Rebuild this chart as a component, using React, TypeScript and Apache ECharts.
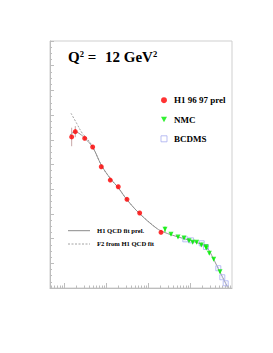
import React, { useEffect, useRef } from "react";
import * as echarts from "echarts";

// H1 96 97 prel: [x, F2, err]
const h1X = [1.525e-4, 1.86e-4, 3.11e-4, 4.82e-4, 7.73e-4, 1.265e-3, 1.96e-3, 3.16e-3, 6.34e-3, 0.0204];
const h1Y = [1.223, 1.266, 1.212, 1.142, 0.982, 0.874, 0.82, 0.718, 0.607, 0.451];
const h1E = [0.075, 0.045, 0.015, 0.015, 0.015, 0.015, 0.015, 0.015, 0.012, 0.01];

// NMC
const nmcX = [0.0254, 0.0353, 0.0518, 0.072, 0.0946, 0.116, 0.144, 0.186, 0.24, 0.245, 0.288, 0.367, 0.518];
const nmcY = [0.475, 0.435, 0.413, 0.405, 0.383, 0.37, 0.37, 0.348, 0.334, 0.324, 0.281, 0.232, 0.132];
const nmcE = [0.022, 0.01, 0.01, 0.01, 0.01, 0.01, 0.01, 0.01, 0.01, 0.01, 0.01, 0.01, 0.012];

// BCDMS
const bcdX = [0.0773, 0.106, 0.19, 0.24, 0.472, 0.588, 0.708];
const bcdY = [0.394, 0.386, 0.362, 0.332, 0.16, 0.087, 0.038];

// H1 QCD fit prel. (solid)
const fitX = [1.39e-4, 1.83e-4, 2.41e-4, 3.14e-4, 4.83e-4, 7.9e-4, 1.29e-3, 1.96e-3, 3.11e-3, 6.2e-3, 0.0161, 0.0254, 0.044, 0.076, 0.1315, 0.204, 0.268, 0.353, 0.464, 0.578, 0.79];
const fitY = [1.239, 1.265, 1.247, 1.212, 1.139, 0.99, 0.884, 0.812, 0.718, 0.605, 0.483, 0.449, 0.421, 0.397, 0.372, 0.348, 0.316, 0.243, 0.162, 0.097, 0.004];

// F2 from H1 QCD fit (dashed)
const f2X = [1.47e-4, 2.0e-4, 2.73e-4, 3.51e-4, 4.83e-4, 7.9e-4, 1.29e-3, 1.96e-3, 3.11e-3, 6.2e-3, 0.0161];
const f2Y = [1.415, 1.334, 1.253, 1.212, 1.143, 0.99, 0.884, 0.812, 0.718, 0.605, 0.483];

const majorX = [1e-4, 1e-3, 1e-2, 1e-1];
const minorX: number[] = [];
[1e-5, 1e-4, 1e-3, 1e-2, 1e-1].forEach((d) => {
  for (let k = 2; k <= 9; k++) minorX.push(+(d * k).toPrecision(3));
});

const SERIF = "'Liberation Serif', 'DejaVu Serif', serif";
const LINE_GRAY = "#8a8a8a";
const BCD_BLUE = "#a8aef0";

function errSeries(name: string, xs: number[], ys: number[], es: number[], color: string) {
  return {
    type: "custom",
    name: name + "-err",
    silent: true,
    data: xs.map((x, i) => [x, ys[i] - es[i], ys[i] + es[i]]),
    encode: { x: 0, y: [1, 2] },
    renderItem: (params: any, api: any) => {
      const p1 = api.coord([api.value(0), api.value(1)]);
      const p2 = api.coord([api.value(0), api.value(2)]);
      return {
        type: "line",
        shape: { x1: p1[0], y1: p1[1], x2: p2[0], y2: p2[1] },
        style: { stroke: color, lineWidth: 1 },
      };
    },
    z: 2,
  };
}

export default function App() {
  const ref = useRef<HTMLDivElement>(null);
  useEffect(() => {
    if (!ref.current) return;
    const chart = echarts.init(ref.current, null, { renderer: "svg" });
    const axisGray = "#bdbdbd";
    const supStyle = { fontSize: 8.5, fontWeight: "bold", fontFamily: SERIF, verticalAlign: "top", lineHeight: 9, fill: "#000" };
    chart.setOption({
      animation: false,
      backgroundColor: "#fff",
      grid: {
        left: 50,
        top: 41,
        width: 182,
        height: 247,
        show: true,
        borderColor: "#cfcfcf",
        borderWidth: 1,
        backgroundColor: "transparent",
      },
      xAxis: [
        {
          type: "log",
          min: 4.65e-5,
          max: 1,
          axisLine: { show: true, lineStyle: { color: axisGray } },
          axisTick: { show: true, inside: true, length: 5, customValues: majorX, lineStyle: { color: axisGray } },
          axisLabel: { show: false },
          splitLine: { show: false },
          minorTick: { show: false },
        },
        {
          type: "log",
          min: 4.65e-5,
          max: 1,
          position: "bottom",
          axisLine: { show: false },
          axisTick: { show: true, inside: true, length: 2.5, customValues: minorX, lineStyle: { color: axisGray } },
          axisLabel: { show: false },
          splitLine: { show: false },
        },
      ],
      yAxis: {
        type: "value",
        min: 0,
        max: 2,
        interval: 0.2,
        axisLine: { show: true, lineStyle: { color: axisGray } },
        axisTick: { show: true, inside: true, length: 4, lineStyle: { color: axisGray } },
        minorTick: { show: true, splitNumber: 4, length: 2, lineStyle: { color: axisGray } },
        axisLabel: { show: false },
        splitLine: { show: false },
      },
      legend: [
        {
          data: [
            { name: "H1 96 97 prel", icon: "circle" },
            { name: "NMC", icon: "path://M0,0 L10,0 L5,9 Z" },
            {
              name: "BCDMS",
              icon: "rect",
              itemStyle: { color: "rgba(255,255,255,0)", borderColor: BCD_BLUE, borderWidth: 1 },
            },
          ],
          orient: "vertical",
          left: 160.5,
          top: 95.7,
          itemWidth: 6,
          itemHeight: 6,
          itemGap: 10.3,
          padding: 0,
          selectedMode: false,
          textStyle: { fontFamily: SERIF, fontWeight: "bold", fontSize: 9, color: "#000", padding: [0, 0, 0, 2] },
        },
      ],
      graphic: [
        {
          type: "text",
          left: 68,
          top: 49,
          style: {
            text: "Q{sup|2} =",
            fontFamily: SERIF,
            fontWeight: "bold",
            fontSize: 15,
            fill: "#000",
            rich: { sup: supStyle },
          },
        },
        {
          type: "text",
          left: 105,
          top: 49,
          style: {
            text: "12 GeV{sup|2}",
            fontFamily: SERIF,
            fontWeight: "bold",
            fontSize: 15,
            fill: "#000",
            rich: { sup: supStyle },
          },
        },
        {
          type: "line",
          shape: { x1: 68, y1: 230.7, x2: 90, y2: 230.7 },
          style: { stroke: LINE_GRAY, lineWidth: 1 },
        },
        {
          type: "text",
          left: 97,
          top: 227,
          style: { text: "H1 QCD fit prel.", fontFamily: SERIF, fontWeight: "bold", fontSize: 6.6, fill: "#000" },
        },
        {
          type: "line",
          shape: { x1: 68, y1: 244, x2: 90, y2: 244 },
          style: { stroke: LINE_GRAY, lineWidth: 0.8, lineDash: [2, 1.5] },
        },
        {
          type: "text",
          left: 97,
          top: 240.3,
          style: { text: "F2 from H1 QCD fit", fontFamily: SERIF, fontWeight: "bold", fontSize: 6.6, fill: "#000" },
        },
      ],
      series: [
        {
          name: "F2 from H1 QCD fit",
          type: "line",
          data: f2X.map((x, i) => [x, f2Y[i]]),
          smooth: 0.4,
          symbol: "none",
          lineStyle: { color: LINE_GRAY, width: 0.8, type: [2, 1.5] },
          itemStyle: { color: LINE_GRAY },
          z: 1,
        },
        {
          name: "H1 QCD fit prel.",
          type: "line",
          data: fitX.map((x, i) => [x, fitY[i]]),
          smooth: 0.4,
          symbol: "none",
          lineStyle: { color: LINE_GRAY, width: 0.9 },
          itemStyle: { color: LINE_GRAY },
          z: 1,
        },
        errSeries("BCDMS", bcdX, bcdY, bcdX.map(() => 0.008), "#b0b6f0"),
        errSeries("NMC", nmcX, nmcY, nmcE, "#33ee33"),
        errSeries("H1", h1X, h1Y, h1E, "#c8a8a8"),
        {
          name: "BCDMS",
          type: "scatter",
          data: bcdX.map((x, i) => [x, bcdY[i]]),
          symbol: "rect",
          symbolSize: 5,
          itemStyle: { color: "rgba(255,255,255,0)", borderColor: BCD_BLUE, borderWidth: 1 },
          z: 3,
        },
        {
          name: "NMC",
          type: "scatter",
          data: nmcX.map((x, i) => [x, nmcY[i]]),
          symbol: "triangle",
          symbolRotate: 180,
          symbolSize: 5,
          itemStyle: { color: "#00ee00" },
          z: 4,
        },
        {
          name: "H1 96 97 prel",
          type: "scatter",
          data: h1X.map((x, i) => [x, h1Y[i]]),
          symbol: "circle",
          symbolSize: 5,
          itemStyle: { color: "#ff0000" },
          z: 5,
        },
      ],
    });
    return () => chart.dispose();
  }, []);
  return (
    <div
      ref={ref}
      style={{ position: "absolute", left: 0, top: 0, width: 273, height: 353 }}
    />
  );
}
